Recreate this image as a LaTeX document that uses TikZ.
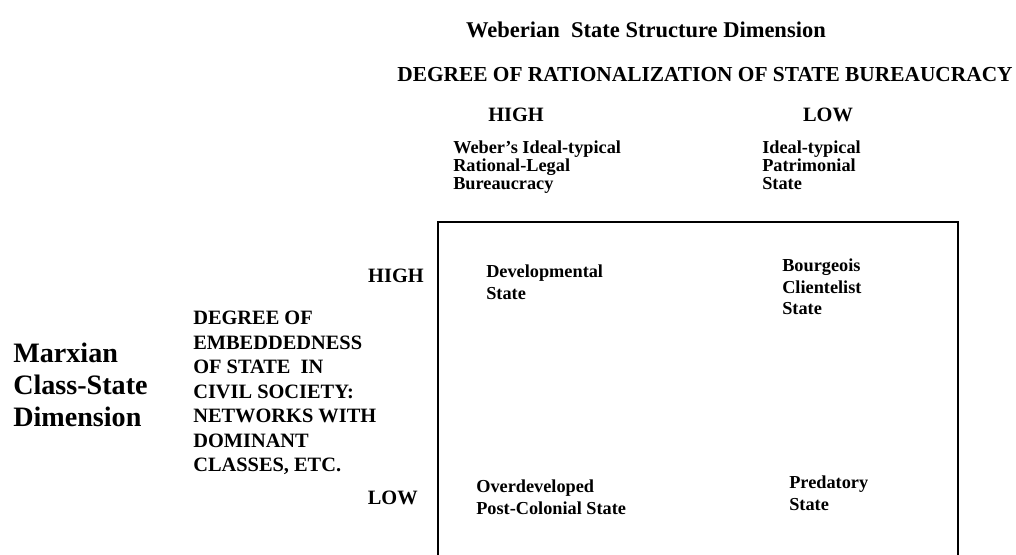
\documentclass[tikz,border=0pt]{standalone}
\usepackage{fontspec}
\setmainfont{Liberation Serif}
\usepackage{tikz}

\newcommand{\titlefont}{\fontsize{16}{19}\selectfont\bfseries}
\newcommand{\dimfont}{\fontsize{20}{22.7}\selectfont\bfseries}
\newcommand{\capsfont}{\fontsize{14.5}{17.4}\selectfont\bfseries}
\newcommand{\cellfont}{\fontsize{13}{15.2}\selectfont\bfseries}
\newcommand{\headfont}{\fontsize{13}{12.5}\selectfont\bfseries}

\begin{document}
\begin{tikzpicture}[x=0.025cm,y=-0.025cm,
        lbl/.style={inner sep=0pt,font=\capsfont},
        cell/.style={anchor=north west,inner sep=0pt,align=left,font=\cellfont}]
            \fill[white] (0,0) rectangle (1016,554);
            \useasboundingbox (0,0) rectangle (1016,554);

            % column heads
            \node[inner sep=0pt,font=\titlefont] (title) at (646,30) {Weberian\ \ State Structure Dimension};
            \node[lbl,font=\fontsize{15.2}{18}\selectfont\bfseries] (rat) at (705,75) {DEGREE OF RATIONALIZATION OF STATE BUREAUCRACY};
            \node[lbl] (hicol) at (516,115) {HIGH};
            \node[lbl] (locol) at (828,115) {LOW};
            \node[cell,font=\headfont] (weber) at (453,141) {Weber's Ideal-typical\\Rational-Legal\\Bureaucracy};
            \node[cell,font=\headfont] (patri) at (762,141) {Ideal-typical\\Patrimonial\\State};

            % the table frame, open at the bottom
            \draw[line width=0.8pt] (438,560) -- (438,222) -- (958,222) -- (958,560);

            % row heads
            \node[lbl,anchor=east] (hirow) at (424,276) {HIGH};
            \node[lbl,anchor=east] (lorow) at (418,498) {LOW};
            \node[lbl,anchor=north west,align=left] (embed) at (193,311)
                {DEGREE OF\\EMBEDDEDNESS\\OF STATE\ \ IN\\CIVIL SOCIETY:\\NETWORKS WITH\\DOMINANT\\CLASSES, ETC.};
            \node[cell,font=\dimfont] (marx) at (13,343) {Marxian\\Class-State\\Dimension};

            % cells
            \node[cell] (devel) at (486,265) {Developmental\\State};
            \node[cell] (bourg) at (782,259) {Bourgeois\\Clientelist\\State};
            \node[cell] (overd) at (476,480) {Overdeveloped\\Post-Colonial State};
            \node[cell] (preda) at (789,476) {Predatory\\State};
        \end{tikzpicture}
\end{document}
